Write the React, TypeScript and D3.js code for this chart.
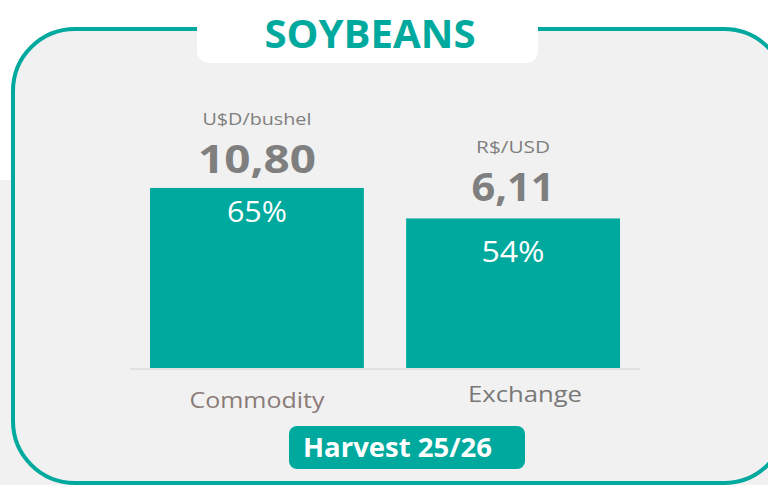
import React from "react";
import * as d3 from "d3";

const title = "SOYBEANS";
const categories = ["Commodity", "Exchange"];
const percents = [65, 54];
const units = ["U$D/bushel", "R$/USD"];
const prices = ["10,80", "6,11"];
const badge = "Harvest 25/26";

const W = 768;
const H = 485;
const TEAL = "#00A99D";

export default function App() {
  const x = d3.scaleBand<string>().domain(categories).range([130, 640]).paddingInner(0.165).paddingOuter(0.078);
  const y = d3.scaleLinear().domain([0, 100]).range([368, 91]);
  const labelColors = ["#8a7b78", "#787878"];
  const labelY = [408, 402];
  const labelX = [257, 525];
  const labelW = [135, 114];
  const pctDy = [34, 44];
  const pctW = [60, 63];
  const priceDy = [15, 17];
  const priceW = [118, 83];
  const unitDy = [63, 65];
  const unitW = [109, 74];
  const font = "'Open Sans', sans-serif";

  return (
    <svg width={W} height={H} style={{ position: "absolute", left: 0, top: 0, display: "block" }}>
      <rect x={0} y={0} width={W} height={H} fill="#ffffff" />
      <rect x={0} y={180} width={W} height={H - 180} fill="#f1f1f1" />
      <rect x={13} y={29} width={773} height={454} rx={62} ry={62} fill="#f1f1f1" stroke={TEAL} strokeWidth={4} />
      {/* title tab */}
      <rect x={197} y={-20} width={341} height={83} rx={12} fill="#ffffff" />
      <text x={370} y={48} textAnchor="middle" fill={TEAL} fontFamily="'Open Sans', sans-serif" fontWeight={700} fontSize={40} textLength={211} lengthAdjust="spacingAndGlyphs">{title}</text>
      {/* baseline */}
      <line x1={130} x2={640} y1={369} y2={369} stroke="#dddddd" strokeWidth={1.5} />
      {categories.map((c, i) => {
        const bx = x(c)!;
        const bw = x.bandwidth();
        const cx = bx + bw / 2;
        const top = y(percents[i]);
        return (
          <g key={c}>
            <rect x={bx} y={top} width={bw} height={y(0) - top} fill={TEAL} />
            <text x={cx} y={top + pctDy[i]} textAnchor="middle" fill="#ffffff" fontFamily={font} fontSize={30} textLength={pctW[i]} lengthAdjust="spacingAndGlyphs">{percents[i]}%</text>
            <text x={cx} y={top - priceDy[i]} textAnchor="middle" fill="#7f7f7f" fontFamily={font} fontWeight={700} fontSize={40} textLength={priceW[i]} lengthAdjust="spacingAndGlyphs">{prices[i]}</text>
            <text x={cx} y={top - unitDy[i]} textAnchor="middle" fill="#7f7f7f" fontFamily={font} fontSize={16.5} textLength={unitW[i]} lengthAdjust="spacingAndGlyphs">{units[i]}</text>
            <text x={labelX[i]} y={labelY[i]} textAnchor="middle" fill={labelColors[i]} fontFamily={font} fontSize={22} textLength={labelW[i]} lengthAdjust="spacingAndGlyphs">{c}</text>
          </g>
        );
      })}
      {/* badge */}
      <rect x={289} y={426} width={236} height={43} rx={8} fill={TEAL} />
      <text x={303} y={457} fill="#ffffff" fontFamily={font} fontWeight={700} fontSize={27} textLength={189} lengthAdjust="spacingAndGlyphs">{badge}</text>
    </svg>
  );
}
